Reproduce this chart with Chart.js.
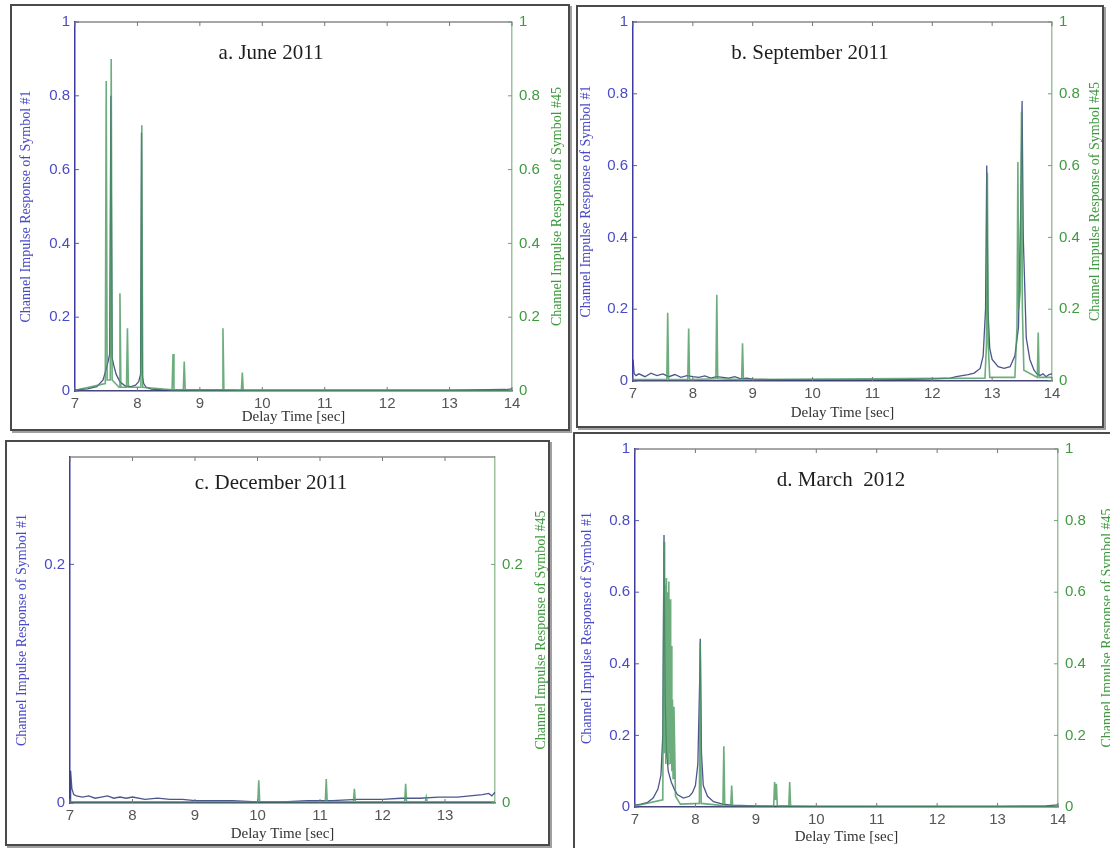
<!DOCTYPE html>
<html>
<head>
<meta charset="utf-8">
<script src="https://cdn.jsdelivr.net/npm/chart.js@4.4.1/dist/chart.umd.min.js"></script>
<style>
  body { margin: 0; background: #fff; }
  #page { position: relative; width: 1110px; height: 848px; overflow: hidden; background: #fff; }
  .box { position: absolute; box-sizing: border-box; border: 2px solid #4a4a4a; box-shadow: 2px 2px 0 #a0a0a0; }
  canvas { position: absolute; }
</style>
</head>
<body>
<div id="page">
  <div class="box" style="left:10px;top:4px;width:560px;height:427px"></div>
  <div class="box" style="left:576px;top:5px;width:528px;height:423px"></div>
  <div class="box" style="left:5px;top:440px;width:545px;height:406px"></div>
  <div class="box" style="left:573px;top:432px;width:545px;height:420px"></div>
  <canvas id="chartA" width="557" height="425" style="left:11px;top:5px"></canvas>
  <canvas id="chartB" width="525" height="420" style="left:577px;top:6px"></canvas>
  <canvas id="chartC" width="543" height="403" style="left:6px;top:441px"></canvas>
  <canvas id="chartD" width="536" height="415" style="left:574px;top:433px"></canvas>
</div>
<script>
// a. June 2011
const juneT1 = [7.0, 7.2, 7.35, 7.45, 7.5, 7.53, 7.555, 7.575, 7.595, 7.62, 7.66, 7.72, 7.8, 7.9, 7.97, 8.02, 8.05, 8.065, 8.08, 8.1, 8.14, 8.22, 8.4, 9.0, 10.0, 11.0, 12.0, 13.0, 13.9, 14.0];
const juneY1 = [0.003, 0.006, 0.012, 0.03, 0.06, 0.08, 0.1, 0.8, 0.09, 0.07, 0.045, 0.025, 0.014, 0.012, 0.016, 0.025, 0.045, 0.7, 0.04, 0.02, 0.01, 0.005, 0.003, 0.002, 0.002, 0.002, 0.002, 0.002, 0.004, 0.006];
const juneT45 = [7.0, 7.485, 7.5, 7.515, 7.565, 7.58, 7.595, 7.705, 7.72, 7.735, 7.825, 7.84, 7.855, 8.055, 8.07, 8.085, 8.555, 8.57, 8.585, 8.735, 8.75, 8.765, 9.355, 9.37, 9.385, 9.665, 9.68, 9.695, 14.0];
const juneY45 = [0.002, 0.02, 0.84, 0.03, 0.03, 0.9, 0.03, 0.01, 0.265, 0.01, 0.01, 0.17, 0.01, 0.01, 0.72, 0.01, 0.003, 0.1, 0.003, 0.003, 0.08, 0.003, 0.003, 0.17, 0.003, 0.002, 0.05, 0.002, 0.002];

// b. September 2011
const sepT1 = [7.0, 7.02, 7.05, 7.1, 7.2, 7.3, 7.4, 7.5, 7.6, 7.7, 7.8, 7.9, 8.0, 8.1, 8.2, 8.3, 8.4, 8.5, 8.6, 8.7, 8.8, 8.9, 9.0, 9.3, 9.6, 10.0, 10.5, 11.0, 11.5, 12.0, 12.3, 12.4, 12.5, 12.6, 12.7, 12.8, 12.85, 12.89, 12.91, 12.93, 12.96, 13.0, 13.1, 13.2, 13.3, 13.38, 13.44, 13.48, 13.5, 13.52, 13.57, 13.63, 13.7, 13.75, 13.8, 13.85, 13.9, 13.95, 14.0];
const sepY1 = [0.06, 0.02, 0.015, 0.02, 0.012, 0.022, 0.015, 0.02, 0.012, 0.018, 0.01, 0.015, 0.012, 0.01, 0.014, 0.008, 0.012, 0.01, 0.008, 0.012, 0.006, 0.008, 0.005, 0.004, 0.004, 0.003, 0.003, 0.003, 0.004, 0.006, 0.008, 0.012, 0.015, 0.018, 0.022, 0.035, 0.07, 0.2, 0.6, 0.2, 0.09, 0.06, 0.04, 0.035, 0.04, 0.07, 0.15, 0.5, 0.78, 0.4, 0.12, 0.06, 0.03, 0.02, 0.015, 0.02, 0.012, 0.018, 0.02];
const sepT45 = [7.0, 7.565, 7.58, 7.595, 7.915, 7.93, 7.945, 8.385, 8.4, 8.415, 8.815, 8.83, 8.845, 12.88, 12.905, 12.92, 12.935, 12.96, 13.38, 13.415, 13.43, 13.445, 13.47, 13.49, 13.505, 13.53, 13.755, 13.77, 13.785, 14.0];
const sepY45 = [0.004, 0.004, 0.19, 0.004, 0.004, 0.146, 0.004, 0.006, 0.24, 0.006, 0.004, 0.105, 0.004, 0.008, 0.1, 0.58, 0.1, 0.01, 0.01, 0.15, 0.61, 0.2, 0.25, 0.75, 0.2, 0.03, 0.01, 0.135, 0.01, 0.01];

// c. December 2011
const decT1 = [7.0, 7.01, 7.03, 7.06, 7.1, 7.2, 7.3, 7.4, 7.5, 7.6, 7.7, 7.8, 7.9, 8.0, 8.2, 8.4, 8.6, 8.8, 9.0, 9.3, 9.6, 10.0, 10.4, 10.8, 11.2, 11.6, 12.0, 12.3, 12.6, 12.9, 13.2, 13.4, 13.6, 13.7, 13.75, 13.8];
const decY1 = [0.0, 0.027, 0.012, 0.007, 0.006, 0.005, 0.006, 0.004, 0.005, 0.006, 0.004, 0.005, 0.004, 0.005, 0.003, 0.004, 0.003, 0.003, 0.002, 0.002, 0.002, 0.001, 0.001, 0.002, 0.002, 0.003, 0.003, 0.004, 0.004, 0.005, 0.005, 0.006, 0.007, 0.008, 0.006, 0.009];
const decT45 = [7.0, 10.005, 10.02, 10.035, 11.085, 11.1, 11.115, 11.535, 11.55, 11.565, 12.355, 12.37, 12.385, 12.685, 12.7, 12.715, 13.8];
const decY45 = [0.001, 0.001, 0.019, 0.001, 0.001, 0.02, 0.001, 0.001, 0.012, 0.001, 0.001, 0.016, 0.001, 0.001, 0.005, 0.001, 0.001];

// d. March 2012
const marT1 = [7.0, 7.1, 7.2, 7.3, 7.38, 7.43, 7.46, 7.48, 7.5, 7.52, 7.55, 7.6, 7.65, 7.7, 7.8, 7.9, 7.95, 8.0, 8.04, 8.07, 8.08, 8.1, 8.13, 8.2, 8.3, 8.45, 8.6, 9.0, 10.0, 11.0, 12.0, 13.0, 13.8, 14.0];
const marY1 = [0.005, 0.008, 0.012, 0.025, 0.05, 0.09, 0.2, 0.76, 0.3, 0.16, 0.1, 0.07, 0.05, 0.035, 0.025, 0.03, 0.04, 0.06, 0.12, 0.35, 0.47, 0.15, 0.06, 0.03, 0.015, 0.008, 0.005, 0.003, 0.002, 0.002, 0.002, 0.002, 0.003, 0.006];
const marT45 = [7.0, 7.46, 7.48, 7.49, 7.5, 7.51, 7.52, 7.53, 7.54, 7.55, 7.56, 7.57, 7.58, 7.59, 7.6, 7.61, 7.62, 7.63, 7.645, 7.67, 7.75, 8.065, 8.08, 8.095, 8.455, 8.47, 8.485, 8.585, 8.6, 8.615, 9.295, 9.31, 9.325, 9.34, 9.355, 9.545, 9.56, 9.575, 14.0];
const marY45 = [0.003, 0.02, 0.74, 0.15, 0.62, 0.12, 0.64, 0.14, 0.6, 0.12, 0.63, 0.15, 0.58, 0.12, 0.45, 0.1, 0.3, 0.08, 0.28, 0.03, 0.008, 0.01, 0.46, 0.01, 0.004, 0.17, 0.004, 0.004, 0.06, 0.004, 0.003, 0.07, 0.02, 0.065, 0.003, 0.003, 0.07, 0.003, 0.002];

const xTickValues = [7, 8, 9, 10, 11, 12, 13, 14];

const blueText = '#4a4ac8';
const greenText = '#3f9a3f';
const serif = '"Liberation Serif", "Times New Roman", serif';
const sans = '"Liberation Sans", Arial, sans-serif';

function pts(ts, ys) {
    return ts.map((t, i) => ({ x: t, y: ys[i] }));
}

function fmt(v) {
    return String(Math.round(v * 100) / 100);
}

// frame: top border, inward ticks, panel title and right axis title
const framePlugin = {
    id: 'frame',
    afterDraw(chart, args, opts) {
        const { ctx, chartArea: a, scales } = chart;
        ctx.save();
        ctx.strokeStyle = '#8a8a8a';
        ctx.lineWidth = 1.5;
        ctx.beginPath();
        ctx.moveTo(a.left, a.top);
        ctx.lineTo(a.right, a.top);
        ctx.stroke();

        ctx.lineWidth = 1;
        ctx.strokeStyle = '#777';
        scales.x.ticks.forEach(t => {
            const x = scales.x.getPixelForValue(t.value);
            ctx.beginPath();
            ctx.moveTo(x, a.bottom); ctx.lineTo(x, a.bottom - 4);
            ctx.moveTo(x, a.top); ctx.lineTo(x, a.top + 4);
            ctx.stroke();
        });
        ctx.strokeStyle = '#5a5aa8';
        scales.y.ticks.forEach(t => {
            const y = scales.y.getPixelForValue(t.value);
            ctx.beginPath(); ctx.moveTo(a.left, y); ctx.lineTo(a.left + 4, y); ctx.stroke();
        });
        ctx.strokeStyle = '#6aa86a';
        scales.y2.ticks.forEach(t => {
            const y = scales.y2.getPixelForValue(t.value);
            ctx.beginPath(); ctx.moveTo(a.right, y); ctx.lineTo(a.right - 4, y); ctx.stroke();
        });

        ctx.fillStyle = '#1e1e1e';
        ctx.font = '21px ' + serif;
        ctx.textAlign = 'center';
        ctx.textBaseline = 'middle';
        ctx.fillText(opts.title, opts.titleX, opts.titleY);

        ctx.translate(opts.rightX, (a.top + a.bottom) / 2);
        ctx.rotate(-Math.PI / 2);
        ctx.font = '14px ' + serif;
        ctx.fillStyle = greenText;
        ctx.fillText('Channel Impulse Response of Symbol #45', 0, 0);
        ctx.restore();
    }
};

function makePanel(id, cfg) {
    const canvas = document.getElementById(id);
    const W = canvas.width, H = canvas.height;
    const area = cfg.area;
    const setX = s => { s.ticks = xTickValues.filter(v => v <= s.max + 1e-9).map(v => ({ value: v })); };
    const setY = s => { s.ticks = cfg.yTicks.map(v => ({ value: v })); };

    new Chart(canvas, {
        type: 'line',
        data: {
            datasets: [{
                label: 'Symbol #45',
                data: pts(cfg.t45, cfg.y45),
                yAxisID: 'y2',
                borderColor: 'rgba(72, 152, 92, 0.8)',
                borderWidth: 1.6,
                order: 0
            }, {
                label: 'Symbol #1',
                data: pts(cfg.t1, cfg.y1),
                yAxisID: 'y',
                borderColor: 'rgba(44, 56, 120, 0.85)',
                borderWidth: 1.3,
                order: 1
            }]
        },
        options: {
            responsive: false,
            animation: false,
            events: [],
            layout: { padding: { top: area.top, left: 0, right: 0, bottom: 0 } },
            elements: { point: { radius: 0 }, line: { tension: 0 } },
            plugins: {
                legend: { display: false },
                tooltip: { enabled: false },
                frame: { title: cfg.title, titleX: cfg.titleX, titleY: cfg.titleY, rightX: cfg.rightX }
            },
            scales: {
                x: {
                    type: 'linear',
                    min: 7,
                    max: cfg.xMax,
                    afterFit: s => { s.height = H - area.bottom; },
                    afterBuildTicks: setX,
                    grid: { display: true, drawOnChartArea: false, drawTicks: false },
                    border: { color: '#45457a', width: 1.5 },
                    ticks: { padding: 4, color: '#555', font: { family: sans, size: 15 }, callback: fmt },
                    title: { display: true, text: 'Delay Time [sec]', color: '#333', font: { family: serif, size: 15 }, padding: { top: 0, bottom: cfg.xTitlePad } }
                },
                y: {
                    position: 'left',
                    min: 0,
                    max: cfg.yMax,
                    afterFit: s => { s.width = area.left; },
                    afterBuildTicks: setY,
                    grid: { display: true, drawOnChartArea: false, drawTicks: false },
                    border: { color: '#3c3ca0', width: 1.5 },
                    ticks: { padding: 5, color: blueText, font: { family: sans, size: 15 }, callback: fmt },
                    title: { display: true, text: 'Channel Impulse Response of Symbol #1', color: blueText, font: { family: serif, size: 14 }, padding: { top: cfg.yTitlePad, bottom: 0 } }
                },
                y2: {
                    position: 'right',
                    min: 0,
                    max: cfg.yMax,
                    afterFit: s => { s.width = W - area.right; },
                    afterBuildTicks: setY,
                    grid: { display: true, drawOnChartArea: false, drawTicks: false },
                    border: { color: '#9cc29c', width: 1.5 },
                    ticks: { padding: 7, color: greenText, font: { family: sans, size: 15 }, callback: fmt }
                }
            }
        },
        plugins: [framePlugin]
    });
}

makePanel('chartA', {
    t1: juneT1, y1: juneY1, t45: juneT45, y45: juneY45,
    xMax: 14, yMax: 1, yTicks: [0, 0.2, 0.4, 0.6, 0.8, 1],
    area: { left: 64, right: 501, top: 17, bottom: 386 },
    title: 'a. June 2011', titleX: 260, titleY: 48, rightX: 546,
    xTitlePad: 4, yTitlePad: 7
});
makePanel('chartB', {
    t1: sepT1, y1: sepY1, t45: sepT45, y45: sepY45,
    xMax: 14, yMax: 1, yTicks: [0, 0.2, 0.4, 0.6, 0.8, 1],
    area: { left: 56, right: 475, top: 13, bottom: 375 },
    title: 'b. September 2011', titleX: 233, titleY: 47, rightX: 518,
    xTitlePad: 4, yTitlePad: 1
});
makePanel('chartC', {
    t1: decT1, y1: decY1, t45: decT45, y45: decY45,
    xMax: 13.8, yMax: 0.29, yTicks: [0, 0.2],
    area: { left: 64, right: 489, top: 10, bottom: 362 },
    title: 'c. December 2011', titleX: 265, titleY: 42, rightX: 535,
    xTitlePad: 1, yTitlePad: 8
});
makePanel('chartD', {
    t1: marT1, y1: marY1, t45: marT45, y45: marY45,
    xMax: 14, yMax: 1, yTicks: [0, 0.2, 0.4, 0.6, 0.8, 1],
    area: { left: 61, right: 484, top: 16, bottom: 374 },
    title: 'd. March  2012', titleX: 267, titleY: 47, rightX: 533,
    xTitlePad: 2, yTitlePad: 5
});
</script>
</body>
</html>
